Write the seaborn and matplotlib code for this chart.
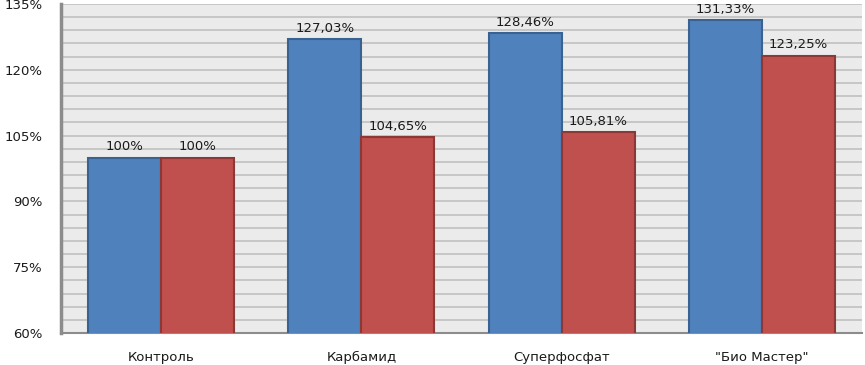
import pandas as pd
import numpy as np
import matplotlib.pyplot as plt
import seaborn as sns
from matplotlib.ticker import MultipleLocator, FuncFormatter

# данные
categories = ["Контроль", "Карбамид", "Суперфосфат", "\"Био Мастер\""]
series_names = ["Серия 1", "Серия 2"]
values_1 = [100, 127.03, 128.46, 131.33]
values_2 = [100, 104.65, 105.81, 123.25]
labels_1 = ["100%", "127,03%", "128,46%", "131,33%"]
labels_2 = ["100%", "104,65%", "105,81%", "123,25%"]

df = pd.DataFrame({
    "Вариант": categories * 2,
    "Серия": [series_names[0]] * 4 + [series_names[1]] * 4,
    "Значение": values_1 + values_2,
})

sns.set_style("white")
plt.rcParams["font.family"] = ["DejaVu Sans"]

fig = plt.figure(figsize=(8.65, 3.65), dpi=100)
ax = fig.add_axes([61 / 865, 32 / 365, 801 / 865, 329 / 365])
ax.set_facecolor("#ebebeb")

sns.barplot(
    data=df, x="Вариант", y="Значение", hue="Серия",
    palette=["#4F81BD", "#C0504D"], saturation=1, width=0.73, gap=0,
    legend=False, ax=ax, zorder=3,
)

edge_cols = ["#3A6291", "#8C3836"]
for cont, ec, labs in zip(ax.containers, edge_cols, [labels_1, labels_2]):
    for bar in cont:
        bar.set_edgecolor(ec)
        bar.set_linewidth(1.5)
    ax.bar_label(cont, labels=labs, padding=3, fontsize=9.5, color="#1a1a1a")

ax.set_ylim(60, 135)
ax.yaxis.set_major_locator(MultipleLocator(15))
ax.yaxis.set_minor_locator(MultipleLocator(3))
ax.yaxis.set_major_formatter(FuncFormatter(lambda v, p: f"{v:.0f}%"))
ax.grid(axis="y", which="both", color="#bdbdbd", linewidth=1.1, zorder=0)
ax.set_axisbelow(True)

ax.set_xlabel("")
ax.set_ylabel("")
ax.tick_params(axis="y", which="both", length=0, labelsize=9.5, pad=13, colors="#1a1a1a")
ax.tick_params(axis="x", length=0, labelsize=9.5, pad=13, colors="#1a1a1a")

for side in ["top", "right"]:
    ax.spines[side].set_visible(False)
ax.spines["left"].set_color("#8c8c8c")
ax.spines["left"].set_linewidth(2.5)
ax.spines["bottom"].set_color("#8c8c8c")
ax.spines["bottom"].set_linewidth(1.5)

fig.savefig("out.png", dpi=100)
